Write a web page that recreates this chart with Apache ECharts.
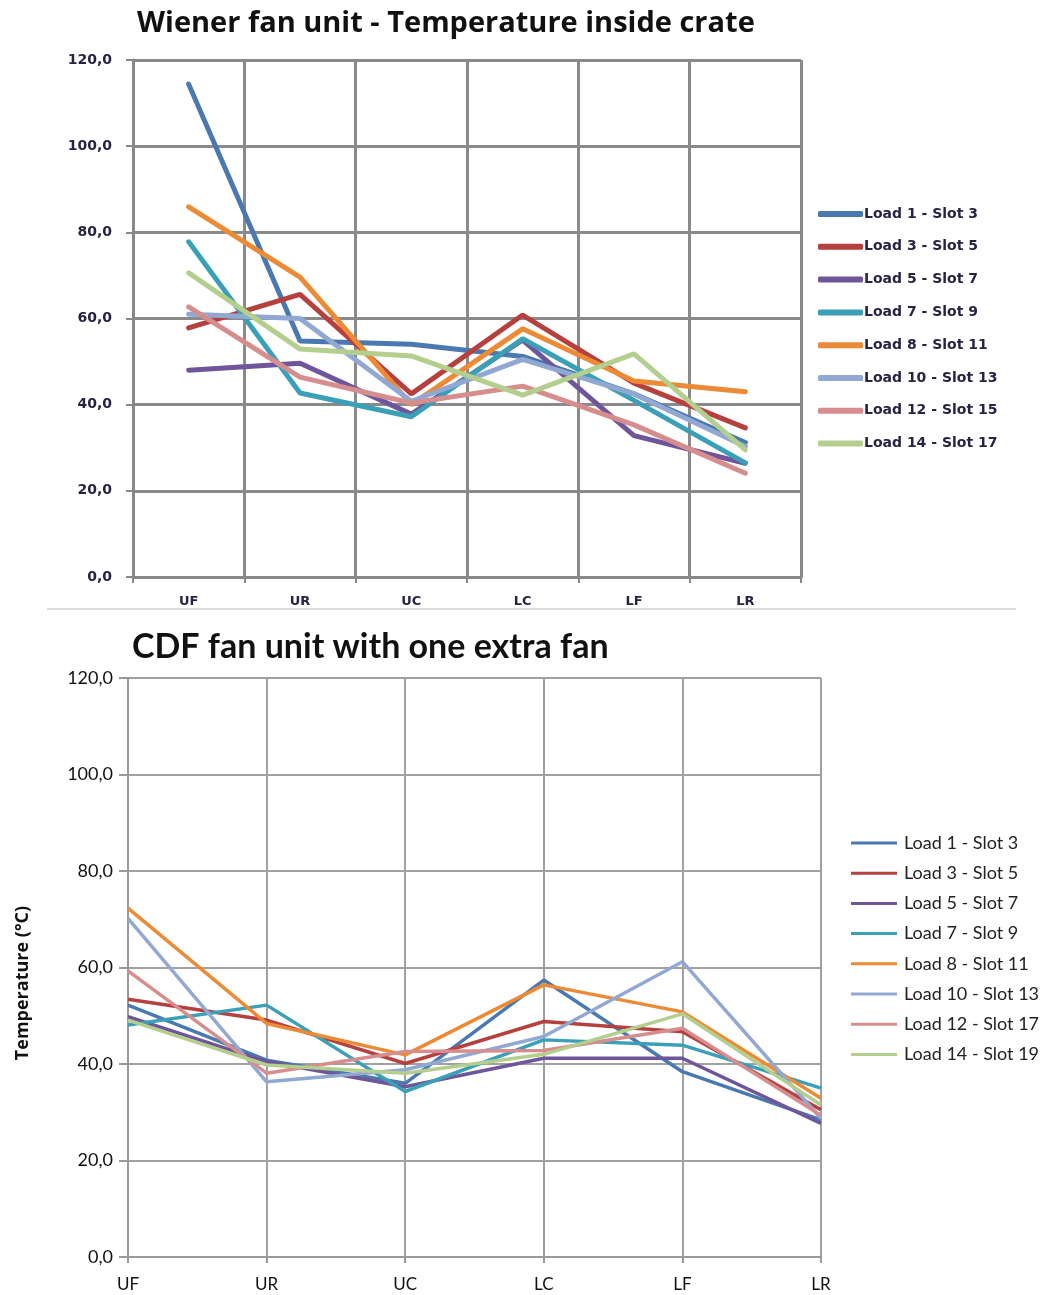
<!DOCTYPE html>
<html><head><meta charset="utf-8">
<script src="https://cdn.jsdelivr.net/npm/echarts@6/dist/echarts.min.js"></script>
<style>html,body{margin:0;padding:0;background:#fff}#c{width:1048px;height:1295px}</style>
</head><body><div id="c"></div>
<script>
// ---- data ----
const categories = ['UF', 'UR', 'UC', 'LC', 'LF', 'LR'];
const yTicks = [0, 20, 40, 60, 80, 100, 120];

const topTitle = 'Wiener fan unit - Temperature inside crate';
const topNames = ['Load 1 - Slot 3', 'Load 3 - Slot 5', 'Load 5 - Slot 7', 'Load 7 - Slot 9',
  'Load 8 - Slot 11', 'Load 10 - Slot 13', 'Load 12 - Slot 15', 'Load 14 - Slot 17'];
const topLoad1 = [114.4, 54.8, 54.0, 51.2, 42.5, 31.2];
const topLoad3 = [57.8, 65.6, 42.5, 60.8, 45.0, 34.6];
const topLoad5 = [48.0, 49.6, 37.8, 55.0, 32.8, 26.4];
const topLoad7 = [77.8, 42.7, 37.2, 55.3, 41.0, 26.5];
const topLoad8 = [85.9, 69.6, 40.0, 57.6, 45.5, 43.0];
const topLoad10 = [61.0, 60.0, 40.8, 50.5, 42.5, 30.3];
const topLoad12 = [62.7, 46.4, 40.4, 44.3, 35.3, 24.1];
const topLoad14 = [70.6, 52.9, 51.3, 42.2, 51.8, 29.5];

const botTitle = 'CDF fan unit with one extra fan';
const botYName = 'Temperature (°C)';
const botNames = ['Load 1 - Slot 3', 'Load 3 - Slot 5', 'Load 5 - Slot 7', 'Load 7 - Slot 9',
  'Load 8 - Slot 11', 'Load 10 - Slot 13', 'Load 12 - Slot 17', 'Load 14 - Slot 19'];
const botLoad1 = [52.2, 40.8, 36.0, 57.4, 38.4, 28.4];
const botLoad3 = [53.4, 49.1, 40.1, 48.8, 46.7, 30.5];
const botLoad5 = [49.8, 40.5, 35.3, 41.2, 41.2, 27.7];
const botLoad7 = [48.1, 52.2, 34.3, 45.0, 43.9, 35.0];
const botLoad8 = [72.3, 48.4, 41.9, 56.4, 50.8, 32.9];
const botLoad10 = [70.2, 36.3, 38.8, 45.7, 61.2, 28.7];
const botLoad12 = [59.3, 38.1, 42.6, 42.8, 47.4, 29.4];
const botLoad14 = [49.1, 39.8, 38.1, 42.0, 50.4, 31.5];

const colors = ['#4a78b0', '#b5403d', '#6f559a', '#3aa0b8', '#ec8a35', '#91a9d2', '#d58e8d', '#b4cf8d'];

// ---- chart ----
const topData = [topLoad1, topLoad3, topLoad5, topLoad7, topLoad8, topLoad10, topLoad12, topLoad14];
const botData = [botLoad1, botLoad3, botLoad5, botLoad7, botLoad8, botLoad10, botLoad12, botLoad14];
const fmt = v => v.toFixed(1).replace('.', ',');
const smallFont = 'DejaVu Sans';
const smallColor = '#2a2245';

const series = [];
topData.forEach((d, i) => series.push({
  type: 'line', name: topNames[i], xAxisIndex: 0, yAxisIndex: 0, data: d,
  symbol: 'none', lineStyle: { width: 5, color: colors[i], cap: 'round' }, itemStyle: { color: colors[i] },
  z: 10 + i
}));
botData.forEach((d, i) => series.push({
  type: 'line', name: botNames[i], xAxisIndex: 1, yAxisIndex: 1, data: d,
  symbol: 'none', lineStyle: { width: 3.5, color: colors[i] }, itemStyle: { color: colors[i] },
  z: 10 + i
}));

const chart = echarts.init(document.getElementById('c'), null, { renderer: 'canvas' });
chart.setOption({
  animation: false,
  backgroundColor: '#fff',
  title: [
    { text: topTitle, left: 137, top: 9, padding: 0, textStyle: { fontFamily: 'Open Sans', fontWeight: 'bold', fontSize: 29, color: '#111' } },
    { text: botTitle, left: 132, top: 630, padding: 0, textStyle: { fontFamily: 'Lato', fontWeight: 'bold', fontSize: 34, color: '#111' } }
  ],
  grid: [
    { left: 133, top: 60, width: 668, height: 517, show: false },
    { left: 128, top: 678, width: 693, height: 579, show: false }
  ],
  legend: [
    { data: topNames, orient: 'vertical', left: 818, top: 207, padding: 0, itemGap: 18.8, itemWidth: 45, itemHeight: 6,
      icon: 'roundRect', textStyle: { fontFamily: smallFont, fontWeight: 'bold', fontSize: 14, color: smallColor, padding: [0, 0, 0, -4] } },
    { data: botNames, orient: 'vertical', left: 851, top: 834, padding: 0, itemGap: 12.2, itemWidth: 46, itemHeight: 3,
      icon: 'rect', textStyle: { fontFamily: 'Lato', fontSize: 18, color: '#222', padding: [0, 0, 0, 2] } }
  ],
  graphic: [
    { type: 'line', shape: { x1: 47, y1: 609, x2: 1016, y2: 609 }, style: { stroke: '#cfcfcf', lineWidth: 1.5 } },
    { type: 'text', x: 23, y: 983, rotation: Math.PI / 2,
      style: { text: botYName, fontFamily: 'Open Sans', fontWeight: 'bold', fontSize: 18, fill: '#111', align: 'center', verticalAlign: 'middle' } }
  ],
  xAxis: [
    { type: 'category', gridIndex: 0, data: categories, boundaryGap: true,
      axisLine: { lineStyle: { color: '#888', width: 3 } },
      axisTick: { show: true, length: 6, lineStyle: { color: '#888', width: 2 } },
      axisLabel: { fontFamily: smallFont, fontWeight: 'bold', fontSize: 13, color: smallColor, margin: 18 },
      splitLine: { show: true, lineStyle: { color: '#8a8a8a', width: 3 } } },
    { type: 'category', gridIndex: 1, data: categories, boundaryGap: false,
      axisLine: { lineStyle: { color: '#999', width: 2 } },
      axisTick: { show: true, length: 6, lineStyle: { color: '#999', width: 2 } },
      axisLabel: { fontFamily: 'Lato', fontSize: 17, color: '#111', margin: 19 },
      splitLine: { show: true, lineStyle: { color: '#a0a0a0', width: 2 } } }
  ],
  yAxis: [
    { type: 'value', gridIndex: 0, min: 0, max: 120, interval: 20,
      axisLine: { show: true, lineStyle: { color: '#888', width: 3 } },
      axisTick: { show: true, length: 7, lineStyle: { color: '#888', width: 2 } },
      axisLabel: { fontFamily: smallFont, fontWeight: 'bold', fontSize: 14, color: smallColor, margin: 21, formatter: fmt },
      splitLine: { show: true, lineStyle: { color: '#8a8a8a', width: 3 } } },
    { type: 'value', gridIndex: 1, min: 0, max: 120, interval: 20,
      axisLine: { show: true, lineStyle: { color: '#999', width: 2 } },
      axisTick: { show: true, length: 9, lineStyle: { color: '#999', width: 2 } },
      axisLabel: { fontFamily: 'Lato', fontSize: 18, color: '#111', margin: 15, formatter: fmt },
      splitLine: { show: true, lineStyle: { color: '#a0a0a0', width: 2 } } }
  ],
  series: series
});
</script>
</body></html>
